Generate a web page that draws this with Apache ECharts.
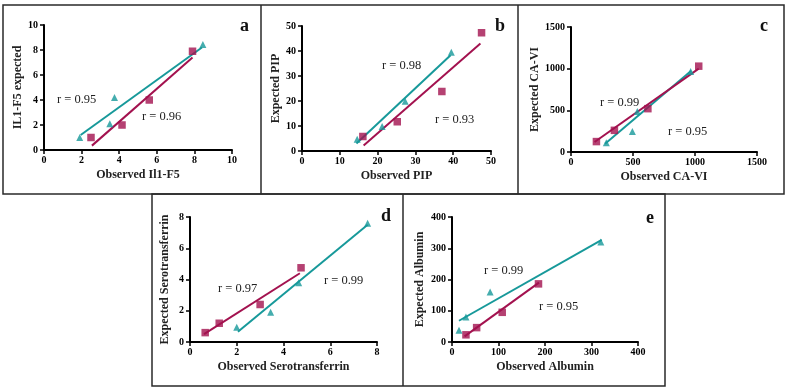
<!DOCTYPE html>
<html><head><meta charset="utf-8">
<script src="https://cdn.jsdelivr.net/npm/echarts@6/dist/echarts.min.js"></script>
<style>html,body{margin:0;padding:0;background:#fff}#c{width:790px;height:392px}</style>
</head><body><div id="c"></div>
<script>
// Panel a: IL1-F5
const aTeal = [[1.9,1.0],[3.5,2.1],[3.75,4.2],[8.45,8.45]];
const aRed = [[2.5,1.0],[4.15,2.0],[5.6,4.0],[7.9,7.9]];
const aTealFit = [[1.95,1.2],[8.4,8.2]];
const aRedFit = [[2.55,0.35],[7.9,7.4]];
// Panel b: PIP
const bTeal = [[14.6,4.7],[21.2,9.8],[27.3,19.9],[39.5,39.5]];
const bRed = [[16.1,5.8],[25.2,11.7],[37.0,23.8],[47.5,47.3]];
const bTealFit = [[14.4,3.0],[39.3,38.3]];
const bRedFit = [[16.3,2.2],[47.2,43.0]];
// Panel c: CA-VI
const cTeal = [[285,110],[495,245],[535,485],[965,965]];
const cRed = [[205,125],[350,260],[620,520],[1030,1030]];
const cTealFit = [[275,100],[970,975]];
const cRedFit = [[190,120],[1030,1000]];
// Panel d: Serotransferrin
const dTeal = [[2.0,0.95],[3.45,1.9],[4.65,3.8],[7.6,7.6]];
const dRed = [[0.65,0.6],[1.25,1.2],[3.0,2.4],[4.75,4.75]];
const dTealFit = [[2.05,0.65],[7.6,7.5]];
const dRedFit = [[0.6,0.5],[4.7,4.4]];
// Panel e: Albumin
const eTeal = [[15,38],[30,80],[82,160],[320,320]];
const eRed = [[30,23],[53,46],[108,95],[186,186]];
const eTealFit = [[15,68],[322,327]];
const eRedFit = [[27,18],[187,190]];

const axisMax = [10, 50, 1500, 8, 400];
const axisStep = [2, 10, 500, 2, 100];
const xTitles = ['Observed Il1-F5','Observed PIP','Observed CA-VI','Observed Serotransferrin','Observed Albumin'];
const yTitles = ['IL1-F5 expected','Expected PIP','Expected CA-VI','Expected Serotransferrin','Expected Albumin'];
const panelLetters = ['a','b','c','d','e'];
const rTexts = [['r = 0.95','r = 0.96'],['r = 0.98','r = 0.93'],['r = 0.99','r = 0.95'],['r = 0.97','r = 0.99'],['r = 0.99','r = 0.95']];

const teal = '#17999a', red = '#a3124f';
const font = '"Liberation Serif","DejaVu Serif",serif';
const grids = [
  {left:44, top:25, width:188, height:125},
  {left:302, top:26, width:189, height:125},
  {left:571, top:27, width:186, height:125},
  {left:190, top:217, width:187, height:125},
  {left:452, top:217, width:186, height:125}
];
const yGaps = [19, 20, 30, 19, 26];
const sets = [
  [aTeal,aRed,aTealFit,aRedFit],
  [bTeal,bRed,bTealFit,bRedFit],
  [cTeal,cRed,cTealFit,cRedFit],
  [dTeal,dRed,dTealFit,dRedFit],
  [eTeal,eRed,eTealFit,eRedFit]
];
function axis(i, isX){
  return {
    type:'value', gridIndex:i, min:0, max:axisMax[i], interval:axisStep[i],
    name: isX ? xTitles[i] : yTitles[i], nameLocation:'middle', nameGap: isX ? 19 : yGaps[i],
    nameTextStyle:{fontFamily:font, fontWeight:'bold', fontSize:12, color:'#222'},
    axisLine:{show:true, onZero:false, lineStyle:{color:'#000', width:2}},
    axisTick:{show:true, length:4, lineStyle:{color:'#000', width:1.5}},
    axisLabel:{fontFamily:font, fontWeight:'bold', fontSize:10, color:'#000', margin: isX?5:6, formatter: v => String(v)},
    splitLine:{show:false}
  };
}
const series = [];
sets.forEach((s,i)=>{
  series.push({type:'line', xAxisIndex:i, yAxisIndex:i, data:s[2], showSymbol:false, lineStyle:{color:teal,width:2}, z:2, animation:false});
  series.push({type:'line', xAxisIndex:i, yAxisIndex:i, data:s[3], showSymbol:false, lineStyle:{color:red,width:2}, z:2, animation:false});
  series.push({type:'scatter', xAxisIndex:i, yAxisIndex:i, data:s[0], symbol:'triangle', symbolSize:7, itemStyle:{color:teal}, z:3, animation:false});
  series.push({type:'scatter', xAxisIndex:i, yAxisIndex:i, data:s[1], symbol:'rect', symbolSize:7.5, itemStyle:{color:red}, z:3, animation:false});
});
const rPos = [[[57,100],[142,117]],[[382,66],[435,120]],[[600,103],[668,132]],[[218,289],[324,281]],[[484,271],[539,307]]];
const letterPos = [[240,26],[495,26],[760,26],[381,216],[646,218]];
const graphic = [];
const border = {stroke:'#2a2a2a', lineWidth:1.5};
graphic.push({type:'rect', shape:{x:3,y:5,width:781,height:189}, style:Object.assign({fill:null},border), silent:true});
graphic.push({type:'line', shape:{x1:261,y1:5,x2:261,y2:194}, style:border, silent:true});
graphic.push({type:'line', shape:{x1:518,y1:5,x2:518,y2:194}, style:border, silent:true});
graphic.push({type:'rect', shape:{x:152,y:194,width:513,height:192}, style:Object.assign({fill:null},border), silent:true});
graphic.push({type:'line', shape:{x1:403,y1:194,x2:403,y2:386}, style:border, silent:true});
rTexts.forEach((pair,i)=>{
  pair.forEach((t,j)=>{
    graphic.push({type:'text', x:rPos[i][j][0], y:rPos[i][j][1], style:{text:t, fontFamily:font, fontSize:12.5, fill:'#222', verticalAlign:'middle'}, silent:true});
  });
  graphic.push({type:'text', x:letterPos[i][0], y:letterPos[i][1], style:{text:panelLetters[i], fontFamily:font, fontWeight:'bold', fontSize:18, fill:'#111', verticalAlign:'middle'}, silent:true});
});
const chart = echarts.init(document.getElementById('c'), null, {renderer:'canvas'});
chart.setOption({
  animation:false,
  grid: grids,
  xAxis: grids.map((g,i)=>axis(i,true)),
  yAxis: grids.map((g,i)=>axis(i,false)),
  series: series,
  graphic: graphic
});
</script></body></html>
